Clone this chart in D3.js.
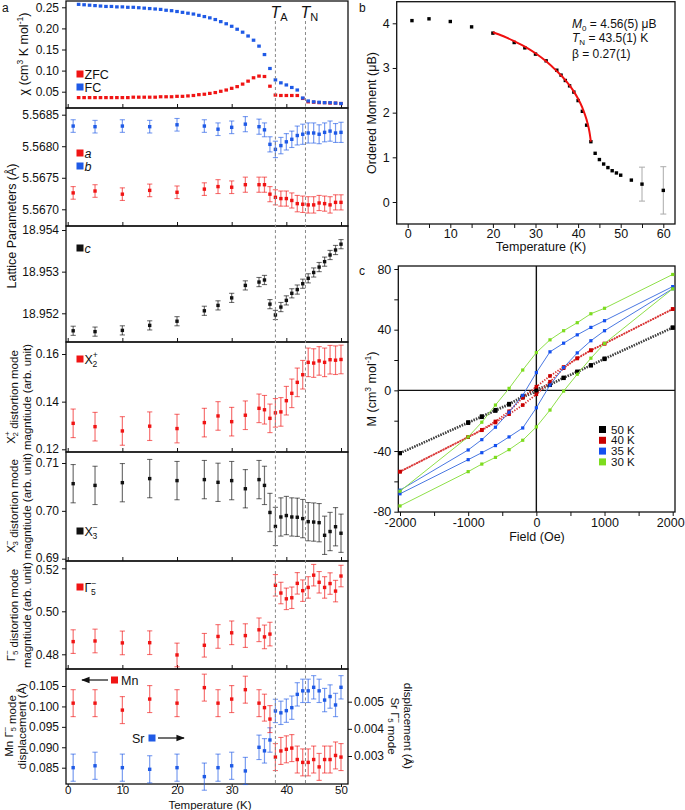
<!DOCTYPE html>
<html><head><meta charset="utf-8">
<script src="https://cdn.jsdelivr.net/npm/d3@7"></script>
<style>body{margin:0;background:#fff} text{font-family:"Liberation Sans",Arial,sans-serif;fill:#111}</style>
</head><body><script>
// ---------------- DATA ----------------
const T_CHI = [2,3,4,5,6,7,8,9,10,11,12,13,14,15,16,17,18,19,20,21,22,23,24,25,26,27,28,29,30,31,32,33,34,35,36,37,38,39,40,41,42,43,44,45,46,47,48,49,50];
const CHI_FC = [0.257,0.256,0.255,0.254,0.253,0.252,0.252,0.251,0.251,0.250,0.250,0.249,0.248,0.247,0.246,0.245,0.243,0.242,0.240,0.238,0.236,0.234,0.231,0.228,0.225,0.221,0.216,0.211,0.205,0.198,0.191,0.182,0.172,0.158,0.138,0.105,0.078,0.071,0.066,0.060,0.054,0.035,0.028,0.026,0.025,0.024,0.024,0.023,0.022];
const CHI_ZFC = [0.036,0.036,0.036,0.036,0.036,0.036,0.036,0.036,0.036,0.036,0.037,0.037,0.037,0.037,0.037,0.038,0.038,0.038,0.039,0.039,0.040,0.041,0.043,0.044,0.046,0.048,0.051,0.054,0.058,0.062,0.068,0.075,0.083,0.087,0.086,0.063,0.042,0.041,0.041,0.041,0.041,0.034,0.026,0.025,0.024,0.024,0.023,0.023,0.022];

const T_DIFF = [1,5,10,15,20,25,27.5,30,32.5,35,36,37,38,39,40,41,42,43,44,45,46,47,48,49,50];
const LAT_A = [5.56726,5.56729,5.56724,5.56730,5.56727,5.56732,5.56736,5.56735,5.56739,5.56739,5.56739,5.56724,5.56719,5.56717,5.56717,5.56714,5.56709,5.56708,5.56707,5.56707,5.56710,5.56709,5.56707,5.56711,5.56711];
const LAT_A_ERR = [0.0001,0.0001,0.0001,0.0001,0.0001,0.0001,0.00011,0.0001,0.00012,0.00012,0.00012,0.00012,0.00012,0.00012,0.00012,0.00012,0.00013,0.00013,0.00013,0.00013,0.00012,0.00012,0.00013,0.00012,0.00012];
const LAT_B = [5.56832,5.56831,5.56832,5.56831,5.56834,5.56832,5.56827,5.56830,5.56835,5.56831,5.56826,5.56803,5.56795,5.56801,5.56807,5.56811,5.56817,5.56819,5.56821,5.56821,5.56819,5.56822,5.56824,5.56821,5.56822];
const LAT_B_ERR = [0.0001,0.0001,0.0001,0.0001,0.0001,0.0001,0.0001,0.0001,0.00012,0.00012,0.00011,0.00012,0.00013,0.00013,0.00013,0.00013,0.00015,0.00016,0.00016,0.00016,0.00015,0.00015,0.00016,0.00015,0.00016];
const LAT_C = [18.95158,18.95156,18.95159,18.95171,18.95181,18.95206,18.95219,18.95237,18.95267,18.95275,18.95280,18.95222,18.95196,18.95215,18.95231,18.95248,18.95257,18.95271,18.95284,18.95298,18.95311,18.95324,18.95340,18.95352,18.95366];
const LAT_C_ERR = [0.00011,0.00011,0.00011,0.00011,0.00011,0.00011,0.00011,0.00011,0.00011,0.00011,0.00011,0.00011,0.00011,0.00011,0.00011,0.00011,0.00011,0.00011,0.00011,0.00011,0.00011,0.00011,0.00011,0.00011,0.00011];
const X2P = [0.1309,0.1295,0.1277,0.1297,0.1287,0.1312,0.1340,0.1316,0.1343,0.1372,0.1366,0.1330,0.1353,0.1357,0.1404,0.1435,0.1481,0.1513,0.1565,0.1562,0.1571,0.1565,0.1576,0.1574,0.1577];
const X2P_ERR = [0.006,0.006,0.006,0.006,0.006,0.006,0.006,0.006,0.006,0.006,0.006,0.006,0.006,0.006,0.006,0.006,0.006,0.006,0.006,0.006,0.006,0.006,0.006,0.006,0.006];
const X3M = [0.70568,0.70532,0.70589,0.70674,0.70632,0.70653,0.70596,0.70632,0.70462,0.70653,0.70532,0.69966,0.69674,0.69872,0.69902,0.69872,0.69866,0.69838,0.69774,0.69766,0.69753,0.69489,0.69568,0.69668,0.69532];
const X3M_ERR = [0.004,0.004,0.004,0.004,0.004,0.004,0.004,0.004,0.004,0.004,0.004,0.004,0.004,0.004,0.004,0.004,0.004,0.004,0.004,0.004,0.004,0.004,0.004,0.004,0.004];
const G5M = [0.4859,0.4862,0.4853,0.4854,0.4797,0.4842,0.4883,0.4900,0.4887,0.4914,0.4881,0.4894,0.5121,0.5085,0.5058,0.5063,0.5130,0.5096,0.5111,0.5168,0.5135,0.5111,0.5129,0.5094,0.5164];
const G5M_ERR = [0.0055,0.0055,0.0055,0.0055,0.0055,0.0055,0.0055,0.0055,0.0055,0.0055,0.0055,0.0055,0.005,0.005,0.005,0.005,0.005,0.005,0.005,0.005,0.005,0.005,0.005,0.005,0.005];
const MN_DISP = [0.1008,0.1008,0.0991,0.1018,0.1008,0.1046,0.1008,0.1018,0.1041,0.1008,0.0997,0.0969,0.0876,0.0891,0.0895,0.0898,0.0870,0.0863,0.0863,0.0870,0.0852,0.0870,0.0870,0.0880,0.0876];
const MN_ERR = [0.0033,0.0033,0.0033,0.0033,0.0033,0.0033,0.0033,0.0033,0.0033,0.0033,0.0033,0.0033,0.0033,0.0033,0.0033,0.0033,0.0033,0.0033,0.0033,0.0033,0.0033,0.0033,0.0033,0.0033,0.0033];
const SR_DISP = [0.00257,0.00264,0.00257,0.00251,0.00257,0.00224,0.00257,0.00264,0.00245,0.00332,0.00319,0.00359,0.00466,0.00459,0.00467,0.00478,0.00527,0.00540,0.00540,0.00553,0.00540,0.00506,0.00519,0.00488,0.00553];
const SR_ERR = [0.0005,0.0005,0.0005,0.0005,0.0005,0.0005,0.0005,0.0005,0.0005,0.00045,0.00045,0.00045,0.00043,0.00043,0.00043,0.00043,0.00043,0.00043,0.00043,0.00043,0.00043,0.00043,0.00043,0.00043,0.00043];
const T_A = 38, T_N = 43.5;

// panel b
const MOM_T = [1,5,10,15,20,25,27.5,30,32.5,35,36,37,38,39,40,41,42,43,44,45,46,47,48,49,50,52.5,55,60];
const MOM_M = [4.06,4.10,4.04,3.92,3.78,3.57,3.45,3.31,3.16,2.95,2.84,2.72,2.60,2.46,2.27,2.03,1.72,1.35,1.09,0.95,0.85,0.77,0.70,0.65,0.60,0.49,0.40,0.26];
const MOM_ERR = [0,0,0,0,0,0,0,0,0,0,0,0,0,0,0,0,0,0,0,0,0,0,0,0,0,0,0.38,0.53];
const FIT_T = [20,22.5,25,27.5,30,32.5,35,37,38,39,40,41,42,42.5,42.75,43];
const FIT_M = [3.80,3.71,3.60,3.48,3.33,3.15,2.93,2.73,2.61,2.47,2.31,2.11,1.84,1.65,1.52,1.35];

// panel c
const FIELD_DOWN = [2000,1000,800,600,400,200,0,-200,-400,-600,-800,-1000,-2000];
const FIELD_UP = [-2000,-1000,-800,-600,-400,-200,0,200,400,600,800,1000,2000];
const M50_DOWN = [41.5,21.0,16.6,12.4,8.4,4.0,0.7,-3.8,-8.9,-12.9,-17.1,-21.0,-41.4];
const M50_UP = [-41.4,-21.5,-17.6,-13.5,-9.4,-4.6,-1.0,3.5,8.1,12.1,16.4,20.6,41.2];
const M40_DOWN = [53.6,30.8,26.3,21.0,15.4,9.5,2.4,-4.9,-13.8,-20.5,-26.0,-30.8,-53.6];
const M40_UP = [-53.6,-30.8,-26.3,-21.2,-15.7,-9.7,-2.6,5.7,14.6,21.2,26.5,30.8,53.6];
const M35_DOWN = [68.4,45.9,41.5,36.6,31.1,25.4,11.7,-3.3,-14.4,-24.3,-32.5,-39.3,-65.8];
const M35_UP = [-68.2,-45.7,-41.1,-36.4,-30.7,-24.8,-11.5,3.5,15.0,24.7,32.7,39.3,67.0];
const M30_DOWN = [76.4,54.1,50.5,44.6,39.3,33.3,24.9,13.4,1.3,-9.7,-21.0,-30.7,-66.5];
const M30_UP = [-76.2,-53.6,-48.6,-44.2,-39.1,-32.9,-24.1,-13.0,-0.5,10.6,21.2,30.9,66.9];
const LOOP_LABELS = ["50 K","40 K","35 K","30 K"];

// ---------------- DRAW ----------------
const W = 685, H = 810;
const svg = d3.select("body").append("svg").attr("width", W).attr("height", H);
const RED = "#f01414", BLUE = "#1f5ae6", BLACK = "#111";
const FS = 12;
const FF = "Liberation Sans, Arial, sans-serif";

function ssText(sel, parts, fs) {
  parts.forEach(p => {
    if (typeof p === "string") { sel.append("tspan").text(p); return; }
    sel.append("tspan").text(p.base);
    sel.append("tspan").attr("font-size", fs * 0.68).attr("dy", -fs * 0.42).text(p.sup);
    sel.append("tspan").attr("font-size", fs * 0.68).attr("dx", -fs * 0.42).attr("dy", fs * 0.72).text(p.sub);
    sel.append("tspan").attr("dy", -fs * 0.30).text("");
  });
}
function styleAxis(ax, fs) {
  ax.select(".domain").remove();
  ax.selectAll("line").attr("stroke", "#111");
  ax.selectAll("text").attr("font-size", fs).attr("font-family", FF).attr("fill", "#111");
}

// ---- Panel a ----
const AX0 = 66, AX1 = 348;
const xa = d3.scaleLinear().domain([0, 50]).range([67.7, 341]);
const ga = svg.append("g");

function frame(g, x0, y0, x1, y1) {
  g.append("rect").attr("x", x0).attr("y", y0).attr("width", x1 - x0).attr("height", y1 - y0)
    .attr("fill", "none").attr("stroke", "#111").attr("stroke-width", 1.3);
}
function bottomTicks(g, y, last) {
  const ax = g.append("g").attr("transform", `translate(0,${y})`)
    .call(d3.axisBottom(xa).tickValues([0,10,20,30,40,50]).tickSize(last ? 3 : -4).tickPadding(0)
      .tickFormat(last ? d3.format("d") : ""));
  styleAxis(ax, last ? 11.5 : FS);
  if (last) ax.selectAll("text").attr("transform", "translate(0,-1.5)");
  return ax;
}
function leftAxis(g, y, vals, fmt, nudge) {
  const ax = g.append("g").attr("transform", `translate(${AX0},0)`)
    .call(d3.axisLeft(y).tickValues(vals).tickSize(4).tickPadding(3).tickFormat(d3.format(fmt)));
  styleAxis(ax, FS);
  if (nudge) ax.selectAll("text").filter(d => nudge[0] === d).attr("transform", `translate(0,${nudge[1]})`);
}
function errSeries(g, xs, ys, es, y, color, sq) {
  const s = g.append("g");
  xs.forEach((t, i) => {
    const cx = xa(t), v = ys[i], e = es[i];
    const y1 = y(v - e), y2 = y(v + e);
    s.append("line").attr("x1", cx).attr("x2", cx).attr("y1", y1).attr("y2", y2)
      .attr("stroke", color).attr("stroke-opacity", 0.6).attr("stroke-width", 1.2);
    [y1, y2].forEach(yy => s.append("line").attr("x1", cx - 2.6).attr("x2", cx + 2.6).attr("y1", yy).attr("y2", yy)
      .attr("stroke", color).attr("stroke-opacity", 0.6).attr("stroke-width", 1.1));
    s.append("rect").attr("x", cx - sq / 2).attr("y", y(v) - sq / 2).attr("width", sq).attr("height", sq).attr("fill", color);
  });
}
function legendSq(g, x, y, color, parts, italic) {
  g.append("rect").attr("x", x).attr("y", y - 3.5).attr("width", 7).attr("height", 7).attr("fill", color);
  const t = g.append("text").attr("x", x + 8).attr("y", y + 4.5).attr("font-size", 12.5);
  if (italic) t.attr("font-style", "italic");
  ssText(t, parts, 12.5);
}
function yTitle(g, x, ycen, parts, rot, fs) {
  fs = fs || 12.5;
  const t = g.append("text").attr("transform", `translate(${x},${ycen}) rotate(${rot || -90})`)
    .attr("text-anchor", "middle").attr("font-size", fs);
  ssText(t, parts, fs);
}

// P1 chi
const P1 = [1, 108];
const y1 = d3.scaleLinear().domain([0.05, 0.25]).range([91.7, 7.3]);
frame(ga, AX0, P1[0], AX1, P1[1]);
leftAxis(ga, y1, [0.05,0.10,0.15,0.20,0.25], ".2f");
bottomTicks(ga, P1[1], false);
T_CHI.forEach((t, i) => {
  ga.append("rect").attr("x", xa(t) - 1.8).attr("y", y1(CHI_ZFC[i]) - 1.6).attr("width", 3.6).attr("height", 3.2).attr("fill", RED);
});
T_CHI.forEach((t, i) => {
  ga.append("rect").attr("x", xa(t) - 1.8).attr("y", y1(CHI_FC[i]) - 1.6).attr("width", 3.6).attr("height", 3.2).attr("fill", BLUE);
});
legendSq(ga, 76.5, 74, RED, ["ZFC"]);
legendSq(ga, 76.5, 87, BLUE, ["FC"]);
{
  const t = ga.append("text").attr("transform", `translate(28,54) rotate(-90)`).attr("text-anchor", "middle").attr("font-size", 12.5);
  t.append("tspan").text("χ (cm");
  t.append("tspan").attr("font-size", 8.5).attr("dy", -5).text("3");
  t.append("tspan").attr("dy", 5).text(" K mol");
  t.append("tspan").attr("font-size", 8.5).attr("dy", -5).text("-1");
  t.append("tspan").attr("dy", 5).text(")");
}

// P2 a,b
const P2 = [108, 226];
const y2 = d3.scaleLinear().domain([5.5670, 5.5685]).range([209.3, 114.7]);
frame(ga, AX0, P2[0], AX1, P2[1]);
leftAxis(ga, y2, [5.5670,5.5675,5.5680,5.5685], ".4f");
bottomTicks(ga, P2[1], false);
errSeries(ga, T_DIFF, LAT_B, LAT_B_ERR, y2, BLUE, 3.4);
errSeries(ga, T_DIFF, LAT_A, LAT_A_ERR, y2, RED, 3.4);
legendSq(ga, 76.5, 153, RED, ["a"], true);
legendSq(ga, 76.5, 166, BLUE, ["b"], true);

// P3 c
const P3 = [226, 342];
const y3 = d3.scaleLinear().domain([18.952, 18.954]).range([313.3, 230]);
frame(ga, AX0, P3[0], AX1, P3[1]);
leftAxis(ga, y3, [18.952,18.953,18.954], ".3f");
bottomTicks(ga, P3[1], false);
errSeries(ga, T_DIFF, LAT_C, LAT_C_ERR, y3, BLACK, 3.4);
legendSq(ga, 76.5, 248, BLACK, ["c"], true);
yTitle(ga, 16, 226, ["Lattice Parameters (Å)"]);

// P4 X2+
const TF = 11.5;
const P4 = [342, 452];
const y4 = d3.scaleLinear().domain([0.12, 0.16]).range([449.3, 354]);
frame(ga, AX0, P4[0], AX1, P4[1]);
leftAxis(ga, y4, [0.12,0.14,0.16], ".2f", [0.12, -1]);
bottomTicks(ga, P4[1], false);
errSeries(ga, T_DIFF, X2P, X2P_ERR, y4, RED, 3.4);
legendSq(ga, 76.5, 359, RED, [{base:"X", sub:"2", sup:"+"}]);
yTitle(ga, 15, 397, [{base:"X", sub:"2", sup:"+"}, " distortion mode"], -90, TF);
yTitle(ga, 30.5, 397, ["magntiude (arb. unit)"], -90, TF);

// P5 X3-
const P5 = [452, 561];
const y5 = d3.scaleLinear().domain([0.69, 0.71]).range([558.7, 463]);
frame(ga, AX0, P5[0], AX1, P5[1]);
leftAxis(ga, y5, [0.69,0.70,0.71], ".2f", [0.69, -1.5]);
bottomTicks(ga, P5[1], false);
errSeries(ga, T_DIFF, X3M, X3M_ERR, y5, BLACK, 3.4);
legendSq(ga, 76.5, 531, BLACK, [{base:"X", sub:"3", sup:"−"}]);
yTitle(ga, 15, 506, [{base:"X", sub:"3", sup:"−"}, " distortion mode"], -90, TF);
yTitle(ga, 30.5, 506, ["magntiude (arb. unit)"], -90, TF);

// P6 G5-
const P6 = [561, 669];
const y6 = d3.scaleLinear().domain([0.48, 0.52]).range([654.3, 568.3]);
frame(ga, AX0, P6[0], AX1, P6[1]);
leftAxis(ga, y6, [0.48,0.50,0.52], ".2f", [0.52, 1.5]);
bottomTicks(ga, P6[1], false);
errSeries(ga, T_DIFF, G5M, G5M_ERR, y6, RED, 3.4);
legendSq(ga, 76.5, 587, RED, [{base:"Γ", sub:"5", sup:"−"}]);
yTitle(ga, 15, 615, [{base:"Γ", sub:"5", sup:"−"}, " distortion mode"], -90, TF);
yTitle(ga, 30.5, 615, ["magntiude (arb. unit)"], -90, TF);

// P7 Mn / Sr
const P7 = [669, 784];
const y7 = d3.scaleLinear().domain([0.085, 0.105]).range([767.7, 686]);
const y7r = d3.scaleLinear().domain([0.003, 0.005]).range([756, 701.7]);
frame(ga, AX0, P7[0], AX1, P7[1]);
leftAxis(ga, y7, [0.085,0.090,0.095,0.100,0.105], ".3f");
{
  const ax = ga.append("g").attr("transform", `translate(${AX1},0)`)
    .call(d3.axisRight(y7r).tickValues([0.003,0.004,0.005]).tickSize(4).tickPadding(2).tickFormat(d3.format(".3f")));
  styleAxis(ax, FS);
}
bottomTicks(ga, P7[1], true);
errSeries(ga, T_DIFF, SR_DISP, SR_ERR, y7r, BLUE, 3.4);
errSeries(ga, T_DIFF, MN_DISP, MN_ERR, y7, RED, 3.4);
ga.append("text").attr("x", (AX0 + AX1) / 2 + 3).attr("y", 809).attr("text-anchor", "middle").attr("font-size", 11.5).text("Temperature (K)");
yTitle(ga, 13, 726, ["Mn ", {base:"Γ", sub:"5", sup:"−"}, " mode"], -90, TF);
yTitle(ga, 26, 726, ["displacement (Å)"], -90, TF);
yTitle(ga, 391, 726, ["Sr ", {base:"Γ", sub:"5", sup:"−"}, " mode"], 90, TF);
yTitle(ga, 404, 726, ["displacement (Å)"], 90, TF);
// arrows legend
const defs = svg.append("defs");
defs.append("marker").attr("id", "arr").attr("viewBox", "0 0 10 10").attr("refX", 9).attr("refY", 5)
  .attr("markerWidth", 7).attr("markerHeight", 7).attr("orient", "auto")
  .append("path").attr("d", "M0,1 L10,5 L0,9 Z").attr("fill", "#111");
ga.append("line").attr("x1", 108).attr("x2", 82).attr("y1", 680).attr("y2", 680).attr("stroke", "#111").attr("stroke-width", 1.2).attr("marker-end", "url(#arr)");
ga.append("rect").attr("x", 111).attr("y", 676.5).attr("width", 7).attr("height", 7).attr("fill", RED);
ga.append("text").attr("x", 121).attr("y", 684.5).attr("font-size", 12.5).text("Mn");
ga.append("text").attr("x", 132).attr("y", 742.5).attr("font-size", 12.5).text("Sr");
ga.append("rect").attr("x", 148.5).attr("y", 734.5).attr("width", 7).attr("height", 7).attr("fill", BLUE);
ga.append("line").attr("x1", 158).attr("x2", 184).attr("y1", 738).attr("y2", 738).attr("stroke", "#111").attr("stroke-width", 1.2).attr("marker-end", "url(#arr)");

// TA / TN dashed lines
[[T_A, "A"], [T_N, "N"]].forEach(([t, s]) => {
  ga.append("line").attr("x1", xa(t)).attr("x2", xa(t)).attr("y1", 21).attr("y2", P7[1])
    .attr("stroke", "#888").attr("stroke-width", 1).attr("stroke-dasharray", "3,2.5");
  const tx = ga.append("text").attr("x", xa(t) - 5).attr("y", 18).attr("font-size", 16);
  tx.append("tspan").attr("font-style", "italic").text("T");
  tx.append("tspan").attr("font-size", 11).attr("dy", 3).text(s);
});
ga.append("text").attr("x", 2).attr("y", 12).attr("font-size", 12).text("a");

// ---- Panel b ----
const gb = svg.append("g");
const xb = d3.scaleLinear().domain([0, 60]).range([407.7, 663.3]);
const yb = d3.scaleLinear().domain([0, 4]).range([202, 23.3]);
frame(gb, 396.7, 1.7, 675, 224);
{
  const ax = gb.append("g").attr("transform", `translate(0,224)`)
    .call(d3.axisBottom(xb).tickValues([0,5,10,15,20,25,30,35,40,45,50,55,60]).tickSize(4).tickPadding(1)
      .tickFormat(d => d % 10 === 0 ? String(d) : ""));
  styleAxis(ax, 12.5);
  const ay = gb.append("g").attr("transform", `translate(396.7,0)`)
    .call(d3.axisLeft(yb).tickValues([0,1,2,3,4]).tickSize(4).tickPadding(3).tickFormat(d3.format("d")));
  styleAxis(ay, 12.5);
}
MOM_T.forEach((t, i) => {
  const e = MOM_ERR[i];
  if (e > 0) {
    const cx = xb(t);
    gb.append("line").attr("x1", cx).attr("x2", cx).attr("y1", yb(MOM_M[i] - e)).attr("y2", yb(MOM_M[i] + e)).attr("stroke", "#aaa").attr("stroke-width", 1);
    [MOM_M[i] - e, MOM_M[i] + e].forEach(v => gb.append("line").attr("x1", cx - 3).attr("x2", cx + 3).attr("y1", yb(v)).attr("y2", yb(v)).attr("stroke", "#aaa").attr("stroke-width", 1));
  }
});
MOM_T.forEach((t, i) => {
  gb.append("rect").attr("x", xb(t) - 1.7).attr("y", yb(MOM_M[i]) - 1.7).attr("width", 3.4).attr("height", 3.4).attr("fill", "#000");
});
gb.append("path").datum(FIT_T.map((t, i) => [t, FIT_M[i]]))
  .attr("d", d3.line().x(d => xb(d[0])).y(d => yb(d[1])).curve(d3.curveMonotoneX))
  .attr("fill", "none").attr("stroke", "#f01010").attr("stroke-width", 2);
gb.append("text").attr("x", 541).attr("y", 251).attr("text-anchor", "middle").attr("font-size", 12.5).text("Temperature (K)");
gb.append("text").attr("transform", "translate(376,113) rotate(-90)").attr("text-anchor", "middle").attr("font-size", 12.5).text("Ordered Moment (μB)");
{
  const fsb = 12;
  const t1 = gb.append("text").attr("x", 572).attr("y", 28).attr("font-size", fsb);
  t1.append("tspan").attr("font-style", "italic").text("M");
  t1.append("tspan").attr("font-size", 8).attr("dy", 2.5).text("0");
  t1.append("tspan").attr("dy", -2.5).text(" = 4.56(5) μB");
  const t2 = gb.append("text").attr("x", 572).attr("y", 42).attr("font-size", fsb);
  t2.append("tspan").attr("font-style", "italic").text("T");
  t2.append("tspan").attr("font-size", 8).attr("dy", 2.5).text("N");
  t2.append("tspan").attr("dy", -2.5).text(" = 43.5(1) K");
  gb.append("text").attr("x", 572).attr("y", 57.5).attr("font-size", fsb).text("β = 0.27(1)");
}
gb.append("text").attr("x", 359).attr("y", 12).attr("font-size", 12).text("b");

// ---- Panel c ----
const gc = svg.append("g");
const xc = d3.scaleLinear().domain([-2000, 2000]).range([400, 672.7]);
const yc = d3.scaleLinear().domain([-80, 80]).range([511.7, 269]);
{
  const ax = gc.append("g").attr("transform", `translate(0,512)`)
    .call(d3.axisBottom(xc).tickValues([-2000,-1500,-1000,-500,0,500,1000,1500,2000]).tickSize(4).tickPadding(2)
      .tickFormat(d => d % 1000 === 0 ? String(d) : ""));
  styleAxis(ax, 12.5);
  ax.selectAll("text").filter(d => d === 2000).attr("dx", -2.5);
  const ay = gc.append("g").attr("transform", `translate(398.3,0)`)
    .call(d3.axisLeft(yc).tickValues([-80,-60,-40,-20,0,20,40,60,80]).tickSize(4).tickPadding(3)
      .tickFormat(d => d % 40 === 0 ? String(d) : ""));
  styleAxis(ay, 12.5);
}
frame(gc, 398.3, 266, 675, 512);
gc.append("line").attr("x1", xc(0)).attr("x2", xc(0)).attr("y1", 266).attr("y2", 512).attr("stroke", "#111").attr("stroke-width", 1.4);
gc.append("line").attr("x1", 398.3).attr("x2", 675).attr("y1", yc(0)).attr("y2", yc(0)).attr("stroke", "#111").attr("stroke-width", 1.4);

const loops = [
  {down: M50_DOWN, up: M50_UP, line: "#444", mk: "#000", w: 2.2, dash: "1.3,1.3", sq: 4},
  {down: M40_DOWN, up: M40_UP, line: "#d83030", mk: "#c80000", w: 1.8, dash: "1.3,1.4", sq: 3.6},
  {down: M35_DOWN, up: M35_UP, line: "#4a78e2", mk: "#1450f0", w: 1, dash: null, sq: 3.2},
  {down: M30_DOWN, up: M30_UP, line: "#8fe04a", mk: "#7ddc1e", w: 1, dash: null, sq: 3.2}
];
const lc = d3.line().x(d => xc(d[0])).y(d => yc(d[1]));
loops.forEach(L => {
  [[FIELD_DOWN, L.down], [FIELD_UP, L.up]].forEach(([fx, my]) => {
    const pts = fx.map((f, i) => [f, my[i]]);
    const p = gc.append("path").datum(pts).attr("d", lc).attr("fill", "none").attr("stroke", L.line).attr("stroke-width", L.w);
    if (L.dash) p.attr("stroke-dasharray", L.dash);
    pts.forEach(d => gc.append("rect").attr("x", xc(d[0]) - L.sq / 2).attr("y", yc(d[1]) - L.sq / 2)
      .attr("width", L.sq).attr("height", L.sq).attr("fill", L.mk));
  });
});
LOOP_LABELS.forEach((lab, i) => {
  const yy = 429.5 + i * 10.8;
  gc.append("rect").attr("x", 599).attr("y", yy - 3.5).attr("width", 7).attr("height", 7).attr("fill", loops[i].mk);
  gc.append("text").attr("x", 611).attr("y", yy + 4).attr("font-size", 11.5).text(lab);
});
gc.append("text").attr("x", 537).attr("y", 541).attr("text-anchor", "middle").attr("font-size", 12.5).text("Field (Oe)");
{
  const t = gc.append("text").attr("transform", "translate(376,389) rotate(-90)").attr("text-anchor", "middle").attr("font-size", 12.5);
  t.append("tspan").text("M (cm");
  t.append("tspan").attr("font-size", 8.5).attr("dy", -5).text("3");
  t.append("tspan").attr("dy", 5).text(" mol");
  t.append("tspan").attr("font-size", 8.5).attr("dy", -5).text("-1");
  t.append("tspan").attr("dy", 5).text(")");
}
gc.append("text").attr("x", 359).attr("y", 275).attr("font-size", 12).text("c");
</script></body></html>
